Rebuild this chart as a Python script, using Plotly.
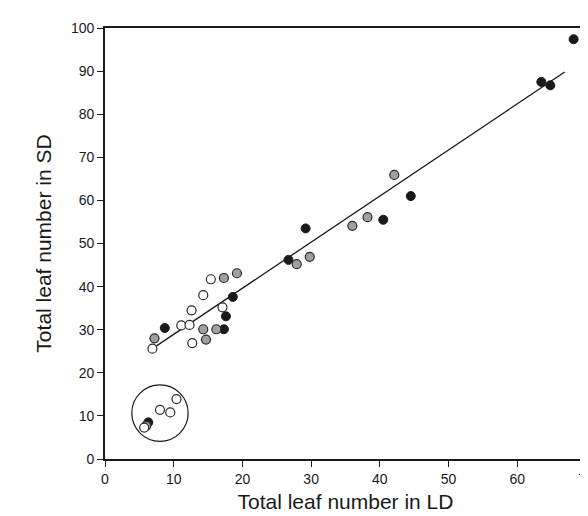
import plotly.graph_objects as go

# Data
open_x = [6.9, 11.1, 12.3, 12.7, 12.6, 14.3, 15.4, 17.1, 5.7, 8.0, 9.5, 10.4]
open_y = [25.6, 31.0, 31.1, 26.9, 34.5, 38.0, 41.7, 35.2, 7.3, 11.4, 10.8, 13.9]

gray_x = [7.2, 14.3, 14.7, 16.2, 17.3, 19.2, 6.0, 27.9, 29.8, 36.0, 38.2, 42.1]
gray_y = [28.0, 30.1, 27.7, 30.1, 42.0, 43.1, 7.7, 45.2, 46.9, 54.1, 56.1, 65.9]

black_x = [8.7, 17.3, 17.6, 18.6, 6.3, 26.7, 29.2, 40.5, 44.5, 68.2, 63.5, 64.8]
black_y = [30.4, 30.1, 33.1, 37.6, 8.5, 46.2, 53.5, 55.5, 61.0, 97.4, 87.5, 86.7]

fit_x = [6.9, 66.9]
fit_y = [25.6, 89.8]

# Encircled group (data units)
circle_x = [3.9, 12.1]
circle_y = [4.1, 17.2]

x_ticks = [0, 10, 20, 30, 40, 50, 60, 70]
y_ticks = [0, 10, 20, 30, 40, 50, 60, 70, 80, 90, 100]

FONT = "Liberation Sans, Arial, sans-serif"

fig = go.Figure()
fig.add_trace(go.Scatter(x=fit_x, y=fit_y, mode="lines",
                         line=dict(color="#1a1a1a", width=1.3), showlegend=False))
fig.add_trace(go.Scatter(x=black_x, y=black_y, mode="markers",
                         marker=dict(size=9, color="#1a1a1a", line=dict(color="#1a1a1a", width=1)),
                         showlegend=False))
fig.add_trace(go.Scatter(x=gray_x, y=gray_y, mode="markers",
                         marker=dict(size=9, color="#a0a0a0", line=dict(color="#2a2a2a", width=1.2)),
                         showlegend=False))
fig.add_trace(go.Scatter(x=open_x, y=open_y, mode="markers",
                         marker=dict(size=9, color="white", line=dict(color="#2a2a2a", width=1.2)),
                         showlegend=False))

fig.add_shape(type="circle", xref="x", yref="y",
              x0=circle_x[0], x1=circle_x[1], y0=circle_y[0], y1=circle_y[1],
              line=dict(color="#1a1a1a", width=1.2))

axis_common = dict(
    showgrid=False, zeroline=False, showline=True, linecolor="#1a1a1a", linewidth=1.6,
    mirror=True, ticks="outside", ticklen=6, tickwidth=1.3, tickcolor="#1a1a1a",
    tickfont=dict(family=FONT, size=14, color="#1a1a1a"),
)

fig.update_xaxes(range=[0, 70], tickvals=x_ticks,
                 title=dict(text="Total leaf number in LD", font=dict(family=FONT, size=21, color="#1a1a1a"),
                            standoff=9),
                 **axis_common)
fig.update_yaxes(range=[0, 100], tickvals=y_ticks,
                 title=dict(text="Total leaf number in SD", font=dict(family=FONT, size=21, color="#1a1a1a"),
                            standoff=14),
                 **axis_common)

fig.update_layout(
    width=588, height=516,
    margin=dict(l=97, r=10, t=20, b=65, autoexpand=False),
    plot_bgcolor="white", paper_bgcolor="white",
    font=dict(family=FONT),
)

fig.write_html("out.html")
